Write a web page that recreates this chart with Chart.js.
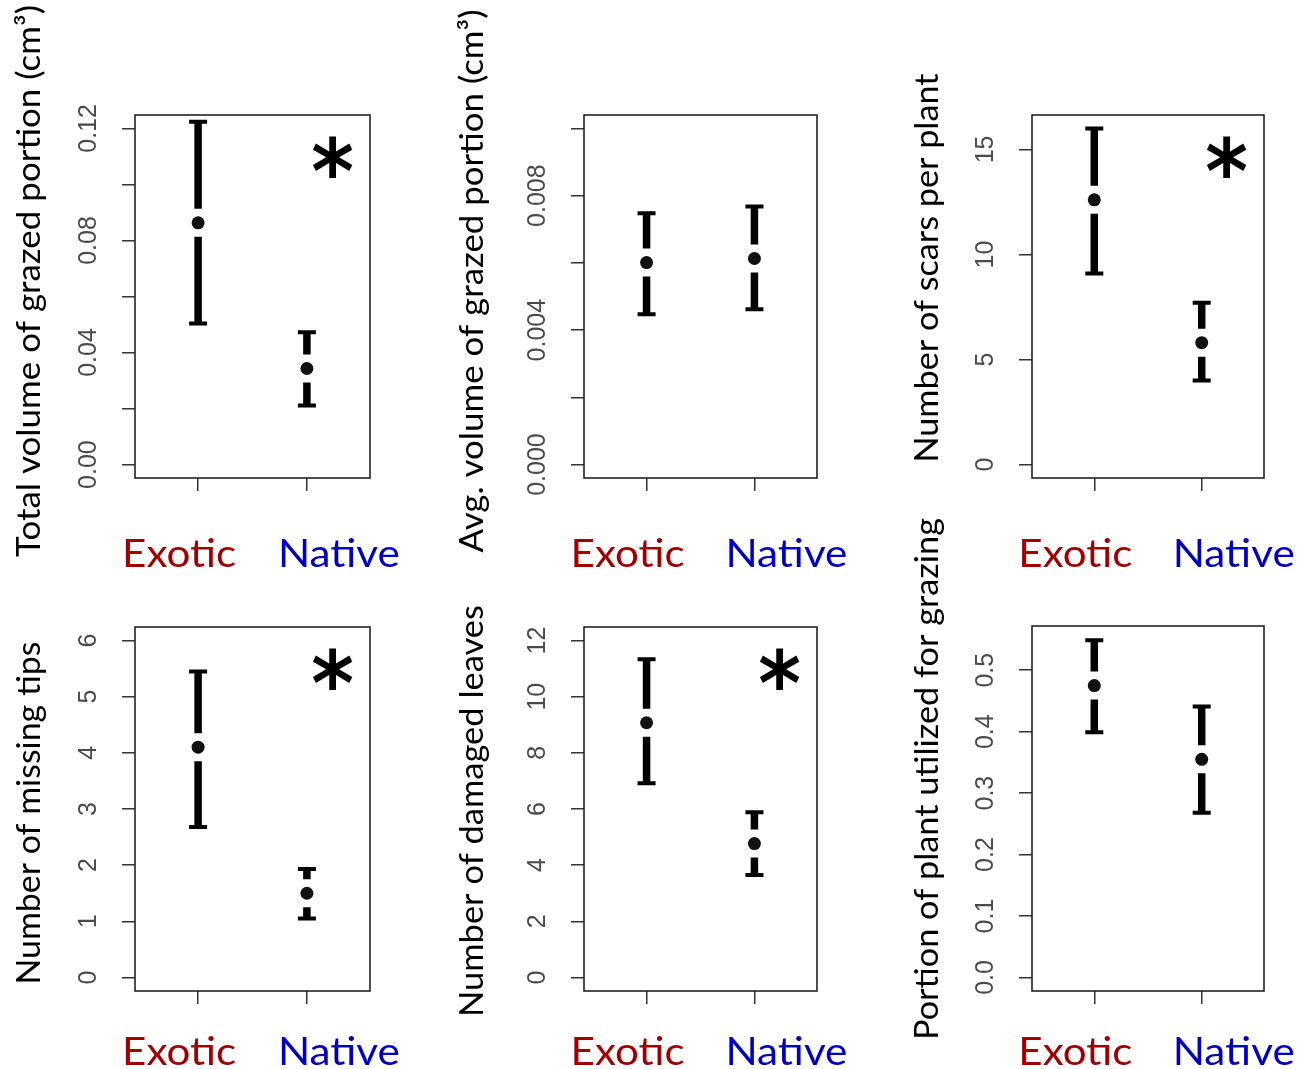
<!DOCTYPE html>
<html>
<head>
<meta charset="utf-8">
<script src="https://cdn.jsdelivr.net/npm/chart.js"></script>
<style>
    html, body { margin: 0; padding: 0; background: #fff; }
    #wrap { position: relative; width: 1298px; height: 1069px; }
    #wrap canvas { position: absolute; left: 0; top: 0; }
</style>
</head>
<body>
<div id="wrap">
    <canvas id="c1" width="1298" height="1069"></canvas>
    <canvas id="c2" width="1298" height="1069"></canvas>
    <canvas id="c3" width="1298" height="1069"></canvas>
    <canvas id="c4" width="1298" height="1069"></canvas>
    <canvas id="c5" width="1298" height="1069"></canvas>
    <canvas id="c6" width="1298" height="1069"></canvas>
</div>
<script>
// groups on the x axis
const groups = ['Exotic', 'Native'];
const groupColors = ['#a00000', '#0000c0'];

// total volume of grazed portion (cm3)
const totalVolMean = [0.0863, 0.0343];
const totalVolLow = [0.0504, 0.0211];
const totalVolHigh = [0.1224, 0.0472];
const totalVolTicks = [0, 0.02, 0.04, 0.06, 0.08, 0.10, 0.12];
const totalVolTickLabels = ['0.00', '', '0.04', '', '0.08', '', '0.12'];

// avg. volume of grazed portion (cm3)
const avgVolMean = [0.00601, 0.00613];
const avgVolLow = [0.00447, 0.00462];
const avgVolHigh = [0.00748, 0.00768];
const avgVolTicks = [0, 0.002, 0.004, 0.006, 0.008, 0.010];
const avgVolTickLabels = ['0.000', '', '0.004', '', '0.008', ''];

// number of scars per plant
const scarsMean = [12.6, 5.8];
const scarsLow = [9.1, 4.0];
const scarsHigh = [16.0, 7.7];
const scarsTicks = [0, 5, 10, 15];
const scarsTickLabels = ['0', '5', '10', '15'];

// number of missing tips
const tipsMean = [4.1, 1.5];
const tipsLow = [2.68, 1.05];
const tipsHigh = [5.45, 1.93];
const tipsTicks = [0, 1, 2, 3, 4, 5, 6];
const tipsTickLabels = ['0', '1', '2', '3', '4', '5', '6'];

// number of damaged leaves
const leavesMean = [9.07, 4.77];
const leavesLow = [6.92, 3.65];
const leavesHigh = [11.33, 5.88];
const leavesTicks = [0, 2, 4, 6, 8, 10, 12];
const leavesTickLabels = ['0', '2', '4', '6', '8', '10', '12'];

// portion of plant utilized for grazing
const portionMean = [0.475, 0.355];
const portionLow = [0.399, 0.268];
const portionHigh = [0.549, 0.441];
const portionTicks = [0, 0.1, 0.2, 0.3, 0.4, 0.5];
const portionTickLabels = ['0.0', '0.1', '0.2', '0.3', '0.4', '0.5'];

const panels = [
    { id: 'c1', title: 'Total volume of grazed portion (cm³)', mean: totalVolMean, low: totalVolLow, high: totalVolHigh,
      ticks: totalVolTicks, tickLabels: totalVolTickLabels, ylim: [0, 0.12], star: true,
      box: [135, 115, 370, 478], titleX: 40, titleY: 281, titleLen: 552, labelY: 567 },
    { id: 'c2', title: 'Avg. volume of grazed portion (cm³)', mean: avgVolMean, low: avgVolLow, high: avgVolHigh,
      ticks: avgVolTicks, tickLabels: avgVolTickLabels, ylim: [0, 0.010], star: false,
      box: [584, 115, 817, 478], titleX: 483, titleY: 281, titleLen: 543, labelY: 567 },
    { id: 'c3', title: 'Number of scars per plant', mean: scarsMean, low: scarsLow, high: scarsHigh,
      ticks: scarsTicks, tickLabels: scarsTickLabels, ylim: [0, 16], star: true,
      box: [1032, 115, 1264, 478], titleX: 938, titleY: 268, titleLen: 389, labelY: 567 },
    { id: 'c4', title: 'Number of missing tips', mean: tipsMean, low: tipsLow, high: tipsHigh,
      ticks: tipsTicks, tickLabels: tipsTickLabels, ylim: [0, 6], star: true,
      box: [135, 627, 370, 991], titleX: 40, titleY: 813, titleLen: 343, labelY: 1065 },
    { id: 'c5', title: 'Number of damaged leaves', mean: leavesMean, low: leavesLow, high: leavesHigh,
      ticks: leavesTicks, tickLabels: leavesTickLabels, ylim: [0, 12], star: true,
      box: [584, 627, 817, 991], titleX: 483, titleY: 811, titleLen: 412, labelY: 1065 },
    { id: 'c6', title: 'Portion of plant utilized for grazing', mean: portionMean, low: portionLow, high: portionHigh,
      ticks: portionTicks, tickLabels: portionTickLabels, ylim: [0, 0.55], star: false,
      box: [1032, 626, 1264, 991], titleX: 938, titleY: 779, titleLen: 522, labelY: 1065 }
];

const W = 1298, H = 1069;
const Y_AXIS_W = 70, X_AXIS_H = 20, TICK_LEN = 13;
const TICK_FONT = '25px "Liberation Sans"';
const labelShift = [-19, 32];
const labelLen = [114, 122];
const gap = 14;

// draw text squeezed/stretched to a given length
function fittedText(ctx, text, font, len) {
    ctx.font = font;
    const w = ctx.measureText(text).width;
    ctx.save();
    ctx.scale(len / w, 1);
    ctx.fillText(text, 0, 0);
    ctx.restore();
}

const decor = {
    id: 'decor',
    beforeDatasetsDraw(chart, args, o) {
        const ctx = chart.ctx, xs = chart.scales.x, ys = chart.scales.y;
        ctx.save();
        ctx.strokeStyle = '#000';
        ctx.lineCap = 'butt';
        groups.forEach((g, i) => {
            const x = xs.getPixelForValue(i + 1);
            const top = ys.getPixelForValue(o.high[i]);
            const mid = ys.getPixelForValue(o.mean[i]);
            const bot = ys.getPixelForValue(o.low[i]);
            ctx.lineWidth = 7.5;
            ctx.beginPath();
            if (mid - gap > top) { ctx.moveTo(x, top); ctx.lineTo(x, mid - gap); }
            if (mid + gap < bot) { ctx.moveTo(x, mid + gap); ctx.lineTo(x, bot); }
            ctx.stroke();
            ctx.lineWidth = 4;
            ctx.beginPath();
            ctx.moveTo(x - 9, top); ctx.lineTo(x + 9, top);
            ctx.moveTo(x - 9, bot); ctx.lineTo(x + 9, bot);
            ctx.stroke();
        });
        ctx.restore();
    },
    afterDraw(chart, args, o) {
        const ctx = chart.ctx, a = chart.chartArea, xs = chart.scales.x;
        ctx.save();
        ctx.strokeStyle = '#222';
        ctx.lineWidth = 1.6;
        ctx.strokeRect(a.left, a.top, a.right - a.left, a.bottom - a.top);

        // y axis title
        ctx.fillStyle = '#000';
        ctx.textAlign = 'center';
        ctx.textBaseline = 'alphabetic';
        ctx.save();
        ctx.translate(o.titleX, o.titleY);
        ctx.rotate(-Math.PI / 2);
        fittedText(ctx, o.title, '32px Lato', o.titleLen);
        ctx.restore();

        // coloured group names
        groups.forEach((g, i) => {
            ctx.fillStyle = groupColors[i];
            ctx.save();
            ctx.translate(xs.getPixelForValue(i + 1) + labelShift[i], o.labelY);
            fittedText(ctx, g, '39px Lato', labelLen[i]);
            ctx.restore();
        });

        // significance star
        if (o.star) {
            ctx.fillStyle = '#000';
            ctx.textAlign = 'left';
            ctx.font = 'bold 100px "DejaVu Sans"';
            const m = ctx.measureText('*');
            const bw = m.actualBoundingBoxLeft + m.actualBoundingBoxRight;
            const bh = m.actualBoundingBoxAscent + m.actualBoundingBoxDescent;
            ctx.translate(a.right - 37, a.top + 42);
            ctx.scale(40 / bw, 42 / bh);
            ctx.fillText('*', -(m.actualBoundingBoxRight - m.actualBoundingBoxLeft) / 2,
                (m.actualBoundingBoxAscent - m.actualBoundingBoxDescent) / 2);
        }
        ctx.restore();
    }
};

const measureCtx = document.createElement('canvas').getContext('2d');
measureCtx.font = TICK_FONT;

panels.forEach(p => {
    const [left, top, right, bottom] = p.box;
    const ext = (p.ylim[1] - p.ylim[0]) * 0.04;
    const widest = Math.max(...p.tickLabels.map(t => measureCtx.measureText(t).width));
    const gridOpts = { drawOnChartArea: false, drawTicks: true, tickLength: TICK_LEN, color: '#333', lineWidth: 1.5 };

    new Chart(document.getElementById(p.id), {
        type: 'scatter',
        data: {
            datasets: [{
                data: groups.map((g, i) => ({ x: i + 1, y: p.mean[i] })),
                backgroundColor: '#111',
                borderWidth: 0,
                pointRadius: 6.5,
                showLine: false
            }]
        },
        options: {
            responsive: false,
            animation: false,
            events: [],
            layout: {
                padding: { left: left - Y_AXIS_W, top: top, right: W - right, bottom: H - bottom - X_AXIS_H }
            },
            plugins: {
                legend: { display: false },
                tooltip: { enabled: false },
                decor: p
            },
            scales: {
                x: {
                    type: 'linear',
                    min: 0.42,
                    max: 2.58,
                    afterFit: s => { s.height = X_AXIS_H; },
                    afterBuildTicks: s => { s.ticks = groups.map((g, i) => ({ value: i + 1 })); },
                    ticks: { callback: () => '', padding: 0 },
                    grid: gridOpts,
                    border: { display: false }
                },
                y: {
                    min: p.ylim[0] - ext,
                    max: p.ylim[1] + ext,
                    afterFit: s => { s.width = Y_AXIS_W; },
                    afterBuildTicks: s => { s.ticks = p.ticks.map(v => ({ value: v })); },
                    ticks: {
                        autoSkip: false,
                        minRotation: 90,
                        maxRotation: 90,
                        crossAlign: 'center',
                        padding: 46 - TICK_LEN - widest / 2,
                        color: '#4a4a4a',
                        font: { family: '"Liberation Sans"', size: 25 },
                        callback: (v, i) => p.tickLabels[i]
                    },
                    grid: gridOpts,
                    border: { display: false }
                }
            }
        },
        plugins: [decor]
    });
});
</script>
</body>
</html>
